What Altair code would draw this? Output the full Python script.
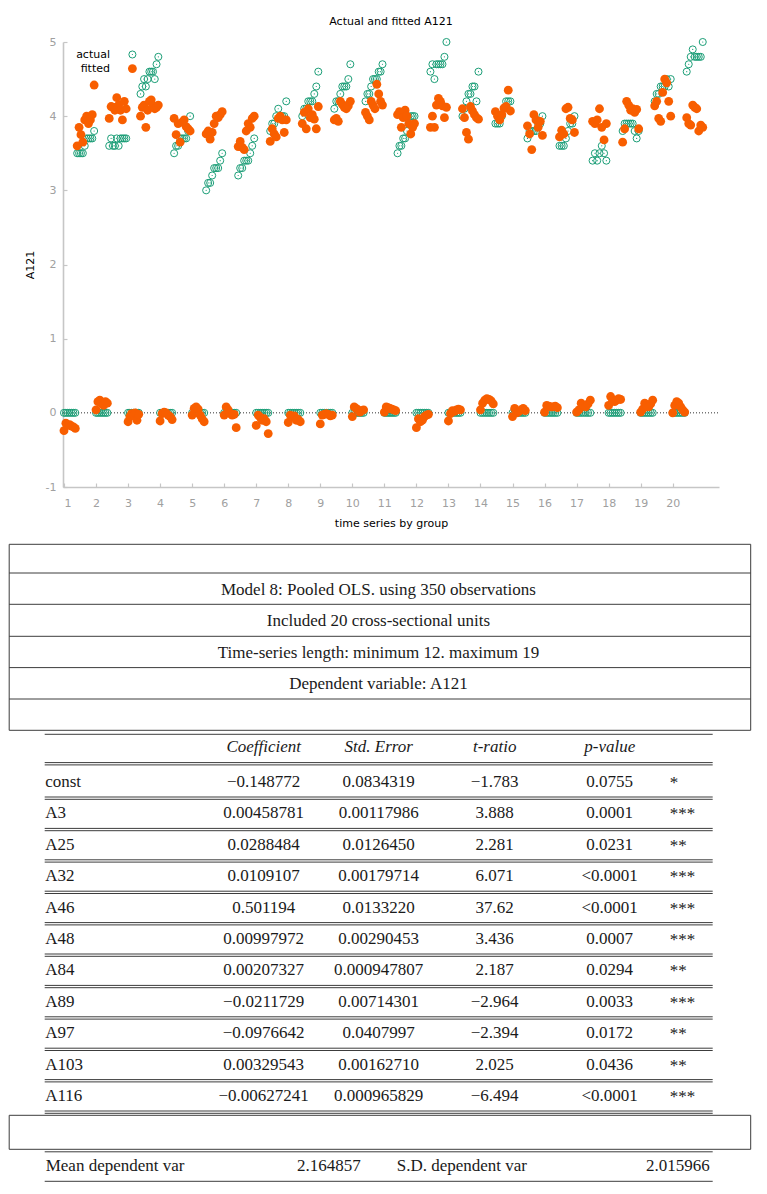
import altair as alt
import pandas as pd

# ------------------------------------------------------------------ scatter data
GROUPS = list(range(1, 21))

# fitted values for the observations whose actual A121 is 0 (first part of each unit)
ZERO_FITTED = [
    [-0.24, -0.14, -0.17, -0.16, -0.18, -0.19, -0.21],
    [0.04, 0.15, 0.17, 0.12, 0.10, 0.15, 0.13],
    [-0.12, -0.05, -0.01, -0.03, 0.00, -0.10, -0.02],
    [-0.11, -0.01, 0.01, 0.00, -0.03, -0.05, -0.09],
    [-0.03, 0.06, 0.08, 0.05, -0.03, -0.08, -0.12],
    [-0.03, 0.08, 0.04, -0.01, -0.03, -0.02, -0.20],
    [-0.17, -0.03, -0.06, -0.10, -0.08, -0.12, -0.28],
    [-0.13, -0.03, -0.05, -0.04, -0.10, -0.09, -0.12],
    [-0.15, -0.03, -0.02, -0.01, -0.02, -0.04, -0.03],
    [-0.05, 0.08, 0.06, 0.04, 0.01, 0.03, 0.04],
    [0.01, 0.08, 0.07, 0.06, 0.05, 0.04, 0.03],
    [-0.20, -0.08, -0.12, -0.10, -0.05, -0.03, -0.02],
    [-0.11, -0.01, 0.03, 0.02, 0.04, 0.05, 0.04],
    [0.04, 0.13, 0.17, 0.19, 0.18, 0.16, 0.12],
    [-0.05, 0.06, 0.00, 0.02, 0.04, 0.06, 0.03],
    [0.01, 0.10, 0.09, 0.08, 0.08, 0.09, 0.07],
    [0.01, 0.04, 0.13, 0.10, 0.08, 0.12, 0.17],
    [0.10, 0.22, 0.17, 0.15, 0.17, 0.19, 0.18],
    [0.01, 0.05, 0.13, 0.10, 0.08, 0.12, 0.17],
    [0.00, 0.10, 0.15, 0.13, 0.08, 0.04, 0.01],
]

# actual and fitted values for the observations with non-zero A121
TOP_ACTUAL = [
    [3.5, 3.5, 3.5, 3.5, 3.6, 3.7, 3.7, 3.7, 3.7, 3.8],
    [3.6, 3.7, 3.6, 3.6, 3.7, 3.6, 3.7, 3.7, 3.7, 3.7],
    [4.3, 4.4, 4.5, 4.4, 4.5, 4.6, 4.6, 4.6, 4.5, 4.7, 4.8],
    [3.5, 3.6, 3.6, 3.7, 3.7, 3.7, 3.7, 3.8, 4.0],
    [3.0, 3.1, 3.1, 3.2, 3.3, 3.3, 3.3, 3.4, 3.5],
    [3.2, 3.3, 3.3, 3.4, 3.4, 3.4, 3.5, 3.6, 3.7],
    [3.8, 3.9, 3.9, 4.0, 4.1, 4.0, 4.0, 4.0, 4.2],
    [4.0, 4.1, 4.1, 4.2, 4.2, 4.2, 4.3, 4.4, 4.6],
    [4.1, 4.2, 4.2, 4.3, 4.4, 4.4, 4.4, 4.5, 4.7],
    [4.2, 4.3, 4.3, 4.4, 4.5, 4.5, 4.5, 4.6, 4.6, 4.7],
    [3.5, 3.6, 3.6, 3.7, 3.7, 3.8, 3.9, 4.0, 4.0, 4.0],
    [4.6, 4.7, 4.5, 4.7, 4.7, 4.7, 4.7, 4.8, 5.0],
    [4.0, 4.1, 4.2, 4.3, 4.3, 4.4, 4.4, 4.2, 4.6],
    [3.9, 3.9, 3.9, 4.0, 4.1, 4.2, 4.2, 4.2],
    [3.7, 3.8, 3.8, 3.8, 3.8, 3.9, 3.9, 4.0],
    [3.6, 3.6, 3.6, 3.7, 3.8, 3.9, 3.9, 4.0],
    [3.4, 3.5, 3.4, 3.5, 3.6, 3.5, 3.4],
    [3.8, 3.9, 3.9, 3.9, 3.9, 3.9, 3.8, 3.7, 3.8],
    [4.2, 4.3, 4.3, 4.4, 4.4, 4.4, 4.5, 4.4, 4.5],
    [4.6, 4.7, 4.8, 4.9, 4.8, 4.8, 4.8, 4.8, 5.0],
]
TOP_FITTED = [
    [3.60, 3.85, 3.75, 3.65, 3.95, 4.00, 3.90, 3.95, 4.02, 4.42],
    [3.97, 4.13, 4.12, 4.08, 4.25, 4.15, 4.08, 3.95, 4.20, 4.10],
    [4.00, 4.12, 4.15, 3.85, 4.08, 4.20, 4.22, 4.14, 4.10, 4.12, 4.15],
    [3.97, 3.75, 3.90, 3.65, 3.92, 3.95, 3.86, 3.83, 3.80],
    [3.76, 3.80, 3.69, 3.78, 3.90, 4.00, 3.98, 4.02, 4.06],
    [3.59, 3.66, 3.58, 3.55, 3.80, 3.90, 3.85, 3.97, 4.00],
    [3.66, 3.83, 3.76, 3.72, 3.97, 4.00, 3.95, 3.78, 3.95],
    [3.90, 4.05, 3.83, 4.10, 3.98, 4.02, 3.96, 3.83, 4.13],
    [3.95, 3.97, 3.93, 4.20, 4.16, 4.12, 4.10, 4.14, 4.20],
    [4.05, 4.00, 3.95, 4.20, 4.15, 4.10, 4.43, 4.30, 4.20, 4.15],
    [4.02, 4.06, 3.85, 3.98, 4.08, 4.00, 3.90, 3.76, 3.85, 3.90],
    [3.85, 4.00, 3.85, 4.15, 4.24, 4.20, 4.14, 3.98, 4.12],
    [4.10, 3.98, 3.78, 3.69, 4.13, 4.07, 4.02, 3.98, 3.96],
    [4.06, 4.00, 3.95, 4.02, 4.11, 4.13, 4.35, 4.07],
    [3.87, 3.76, 3.55, 4.02, 3.95, 3.85, 3.93, 3.74],
    [3.72, 3.81, 3.76, 4.10, 4.12, 3.97, 3.95, 3.78],
    [3.93, 3.90, 3.95, 4.10, 3.85, 3.68, 3.90],
    [3.65, 3.83, 4.20, 4.15, 4.08, 4.10, 4.05, 4.09, 3.83],
    [4.14, 4.20, 3.97, 3.93, 4.32, 4.50, 4.45, 4.20, 4.00],
    [3.98, 3.90, 3.88, 4.15, 4.12, 4.10, 3.80, 3.88, 3.85],
]

# ------------------------------------------------------------------ table data
INFO_LINES = ["", "Model 8: Pooled OLS. using 350 observations",
              "Included 20 cross-sectional units",
              "Time-series length: minimum 12. maximum 19",
              "Dependent variable: A121", ""]
COL_HEADERS = ["Coefficient", "Std. Error", "t-ratio", "p-value"]
VAR_NAMES = ["const", "A3", "A25", "A32", "A46", "A48", "A84", "A89", "A97", "A103", "A116"]
COEFS = ["\u22120.148772", "0.00458781", "0.0288484", "0.0109107", "0.501194", "0.00997972",
         "0.00207327", "\u22120.0211729", "\u22120.0976642", "0.00329543", "\u22120.00627241"]
STD_ERRS = ["0.0834319", "0.00117986", "0.0126450", "0.00179714", "0.0133220", "0.00290453",
            "0.000947807", "0.00714301", "0.0407997", "0.00162710", "0.000965829"]
T_RATIOS = ["\u22121.783", "3.888", "2.281", "6.071", "37.62", "3.436", "2.187",
            "\u22122.964", "\u22122.394", "2.025", "\u22126.494"]
P_VALUES = ["0.0755", "0.0001", "0.0231", "<0.0001", "<0.0001", "0.0007", "0.0294",
            "0.0033", "0.0172", "0.0436", "<0.0001"]
STARS = ["*", "***", "**", "***", "***", "***", "**", "***", "**", "**", "***"]
SUMMARY = ["Mean dependent var", "2.164857", "S.D. dependent var", "2.015966"]

# ------------------------------------------------------------------ styles / layout
GREEN = "#1b9e77"
ORANGE = "#f85e00"
AXIS_GREY = "#c6c6c6"
LABEL_GREY = "#a0a0a0"
SANS = "DejaVu Sans"
SERIF = "Liberation Serif"
TFS = 17
ACT_SIZE = 50
FIT_SIZE = 78

PW, PH = 656, 445
X_DOMAIN = [0.969, 21.445]
Y_DOMAIN = [-1, 5]

# scatter rows
rows = []
for gi, g in enumerate(GROUPS):
    actual = [0.0] * len(ZERO_FITTED[gi]) + TOP_ACTUAL[gi]
    fitted = ZERO_FITTED[gi] + TOP_FITTED[gi]
    n = len(actual)
    for i in range(n):
        rows.append({"x": g + i / n, "actual": actual[i], "fitted": fitted[i]})
df = pd.DataFrame(rows)

xs = alt.Scale(domain=X_DOMAIN, nice=False, zero=False)
ys = alt.Scale(domain=Y_DOMAIN, nice=False, zero=False)

axis_common = dict(domainColor=AXIS_GREY, domainWidth=1.6, labelColor=LABEL_GREY,
                   labelFont=SANS, labelFontSize=11, titleFont=SANS, titleFontSize=11,
                   titleFontWeight="normal", titleColor="#000000", grid=False,
                   ticks=False, tickSize=0)
x_axis = alt.Axis(values=GROUPS, labelPadding=10, title="time series by group",
                  titlePadding=9, **axis_common)
y_axis = alt.Axis(values=list(range(-1, 6)), labelPadding=7, title="A121",
                  titlePadding=10, labelExpr="replace(datum.label, '\u2212', '-')",
                  **axis_common)

tick_axis_common = dict(labels=False, domain=False, ticks=True, tickSize=4, tickColor=AXIS_GREY,
                        tickWidth=1.2, grid=False, title=None, minExtent=0, maxExtent=0)

zero_df = pd.DataFrame({"x": [X_DOMAIN[0]], "x2": [X_DOMAIN[1]], "y": [0.0]})
zero_line = alt.Chart(zero_df).mark_rule(color="#333333", strokeDash=[1, 2], strokeWidth=1).encode(
    x=alt.X("x:Q", scale=xs, axis=x_axis), x2="x2:Q",
    y=alt.Y("y:Q", scale=ys, axis=y_axis))

tick_layer = alt.Chart(zero_df).mark_point(opacity=0).encode(
    x=alt.X("x:Q", scale=xs, axis=alt.Axis(orient="top", offset=-PH, values=GROUPS,
                                           **tick_axis_common)),
    y=alt.Y("y:Q", scale=ys, axis=alt.Axis(orient="right", offset=-PW, values=list(range(-1, 6)),
                                           **tick_axis_common)))

actual_pts = alt.Chart(df).mark_point(shape="circle", filled=False, color=GREEN, size=ACT_SIZE,
                                      strokeWidth=1, opacity=1).encode(
    x=alt.X("x:Q", scale=xs, axis=None), y=alt.Y("actual:Q", scale=ys, axis=None))
actual_dots = alt.Chart(df).mark_circle(color=GREEN, size=1.5, opacity=1).encode(
    x=alt.X("x:Q", scale=xs, axis=None), y=alt.Y("actual:Q", scale=ys, axis=None))
fitted_pts = alt.Chart(df).mark_circle(color=ORANGE, size=FIT_SIZE, opacity=1).encode(
    x=alt.X("x:Q", scale=xs, axis=None), y=alt.Y("fitted:Q", scale=ys, axis=None))

leg_actual_txt = alt.Chart(pd.DataFrame({"t": ["actual"]})).mark_text(
    font=SANS, fontSize=11, align="right", baseline="middle", color="#000").encode(
    text="t:N", x=alt.value(47), y=alt.value(12.5))
leg_fitted_txt = alt.Chart(pd.DataFrame({"t": ["fitted"]})).mark_text(
    font=SANS, fontSize=11, align="right", baseline="middle", color="#000").encode(
    text="t:N", x=alt.value(47), y=alt.value(26.6))
leg_actual_sym = alt.Chart(pd.DataFrame({"t": ["actual"]})).mark_point(
    shape="circle", filled=False, color=GREEN, size=ACT_SIZE, strokeWidth=1, opacity=1).encode(
    x=alt.value(69.4), y=alt.value(12.5))
leg_actual_dot = alt.Chart(pd.DataFrame({"t": ["actual"]})).mark_circle(
    color=GREEN, size=1.5, opacity=1).encode(x=alt.value(69.4), y=alt.value(12.5))
leg_fitted_sym = alt.Chart(pd.DataFrame({"t": ["fitted"]})).mark_circle(
    color=ORANGE, size=FIT_SIZE, opacity=1).encode(x=alt.value(69.4), y=alt.value(26.6))

scatter = alt.layer(
    zero_line, actual_pts, actual_dots, fitted_pts, tick_layer,
    leg_actual_txt, leg_fitted_txt, leg_actual_sym, leg_actual_dot, leg_fitted_sym
).resolve_axis(x="independent", y="independent").properties(
    width=PW, height=PH,
    title=alt.TitleParams("Actual and fitted A121", font=SANS, fontSize=11, fontWeight="normal",
                          color="#000", anchor="middle", baseline="alphabetic", offset=0))

# ------------------------------------------------------------------ table layout (page pixels)
TOP_Y = 540
TB_H = 650
BOX_L, BOX_R = 8.5, 750
TAB_L, TAB_R = 44, 712
BOX1_LINES = [544, 572.7, 604, 636, 667.3, 698.7, 730]
HEAD_Y = 746.7
ROW0_Y = 781.7
ROW_H = 31.4
COL_C = [263, 378, 494, 609]
STAR_X = 669
BOX2 = [1115, 1149]
SUM_Y = 1166

lines = []
for yv in BOX1_LINES:
    lines.append((BOX_L, BOX_R, yv, yv))
lines.append((BOX_L, BOX_L, BOX1_LINES[0], BOX1_LINES[-1]))
lines.append((BOX_R, BOX_R, BOX1_LINES[0], BOX1_LINES[-1]))
lines.append((TAB_L, TAB_R, 734, 734))
lines.append((TAB_L, TAB_R, 762.3, 762.3))
lines.append((TAB_L, TAB_R, 764.6, 764.6))
for k in range(len(VAR_NAMES)):
    yb_ = ROW0_Y + ROW_H * k + 15
    lines.append((TAB_L, TAB_R, yb_, yb_))
    lines.append((TAB_L, TAB_R, yb_ + 2.3, yb_ + 2.3))
for yv in BOX2:
    lines.append((BOX_L, BOX_R, yv, yv))
lines.append((BOX_L, BOX_L, BOX2[0], BOX2[1]))
lines.append((BOX_R, BOX_R, BOX2[0], BOX2[1]))
lines.append((TAB_L, TAB_R, 1151.5, 1151.5))
lines.append((TAB_L, TAB_R, 1181, 1181))
lines_df = pd.DataFrame(lines, columns=["x", "x2", "y", "y2"])

center_txt, left_txt, right_txt, italic_txt = [], [], [], []
for i, t in enumerate(INFO_LINES):
    if t:
        center_txt.append(((BOX_L + BOX_R) / 2 - 1.5, (BOX1_LINES[i] + BOX1_LINES[i + 1]) / 2 + 1, t))
for c, h in zip(COL_C, COL_HEADERS):
    italic_txt.append((c, HEAD_Y, h))
for k, name in enumerate(VAR_NAMES):
    yv = ROW0_Y + ROW_H * k
    left_txt.append((TAB_L + 0.5, yv, name))
    for c, col in zip(COL_C, [COEFS, STD_ERRS, T_RATIOS, P_VALUES]):
        center_txt.append((c, yv, col[k]))
    left_txt.append((STAR_X, yv + 1, STARS[k]))
left_txt.append((TAB_L + 1, SUM_Y, SUMMARY[0]))
right_txt.append((360, SUM_Y, SUMMARY[1]))
left_txt.append((396, SUM_Y, SUMMARY[2]))
right_txt.append((709, SUM_Y, SUMMARY[3]))

xb = alt.Scale(domain=[62.3, 62.3 + PW], nice=False, zero=False)
yb = alt.Scale(domain=[TOP_Y, TOP_Y + TB_H], nice=False, zero=False, reverse=True)

rules = alt.Chart(lines_df).mark_rule(color="#3c3c3c", strokeWidth=1).encode(
    x=alt.X("x:Q", scale=xb, axis=None), x2="x2:Q",
    y=alt.Y("y:Q", scale=yb, axis=None), y2="y2:Q")


def text_layer(items, align, italic=False):
    d = pd.DataFrame(items, columns=["x", "y", "t"])
    return alt.Chart(d).mark_text(font=SERIF, fontSize=TFS, align=align, baseline="middle",
                                  color="#1a1a1a", fontStyle="italic" if italic else "normal").encode(
        x=alt.X("x:Q", scale=xb, axis=None), y=alt.Y("y:Q", scale=yb, axis=None), text="t:N")


table = alt.layer(
    rules,
    text_layer(center_txt, "center"),
    text_layer(left_txt, "left"),
    text_layer(right_txt, "right"),
    text_layer(italic_txt, "center", italic=True),
).properties(width=PW, height=TB_H)

chart = alt.vconcat(scatter, table, spacing=TOP_Y - (41.7 + PH), bounds="flush").properties(
    padding={"left": 0, "top": 8, "right": 0, "bottom": 0}
).configure_view(strokeWidth=0)

chart.save("out.html", embed_options={"renderer": "svg", "actions": False})
